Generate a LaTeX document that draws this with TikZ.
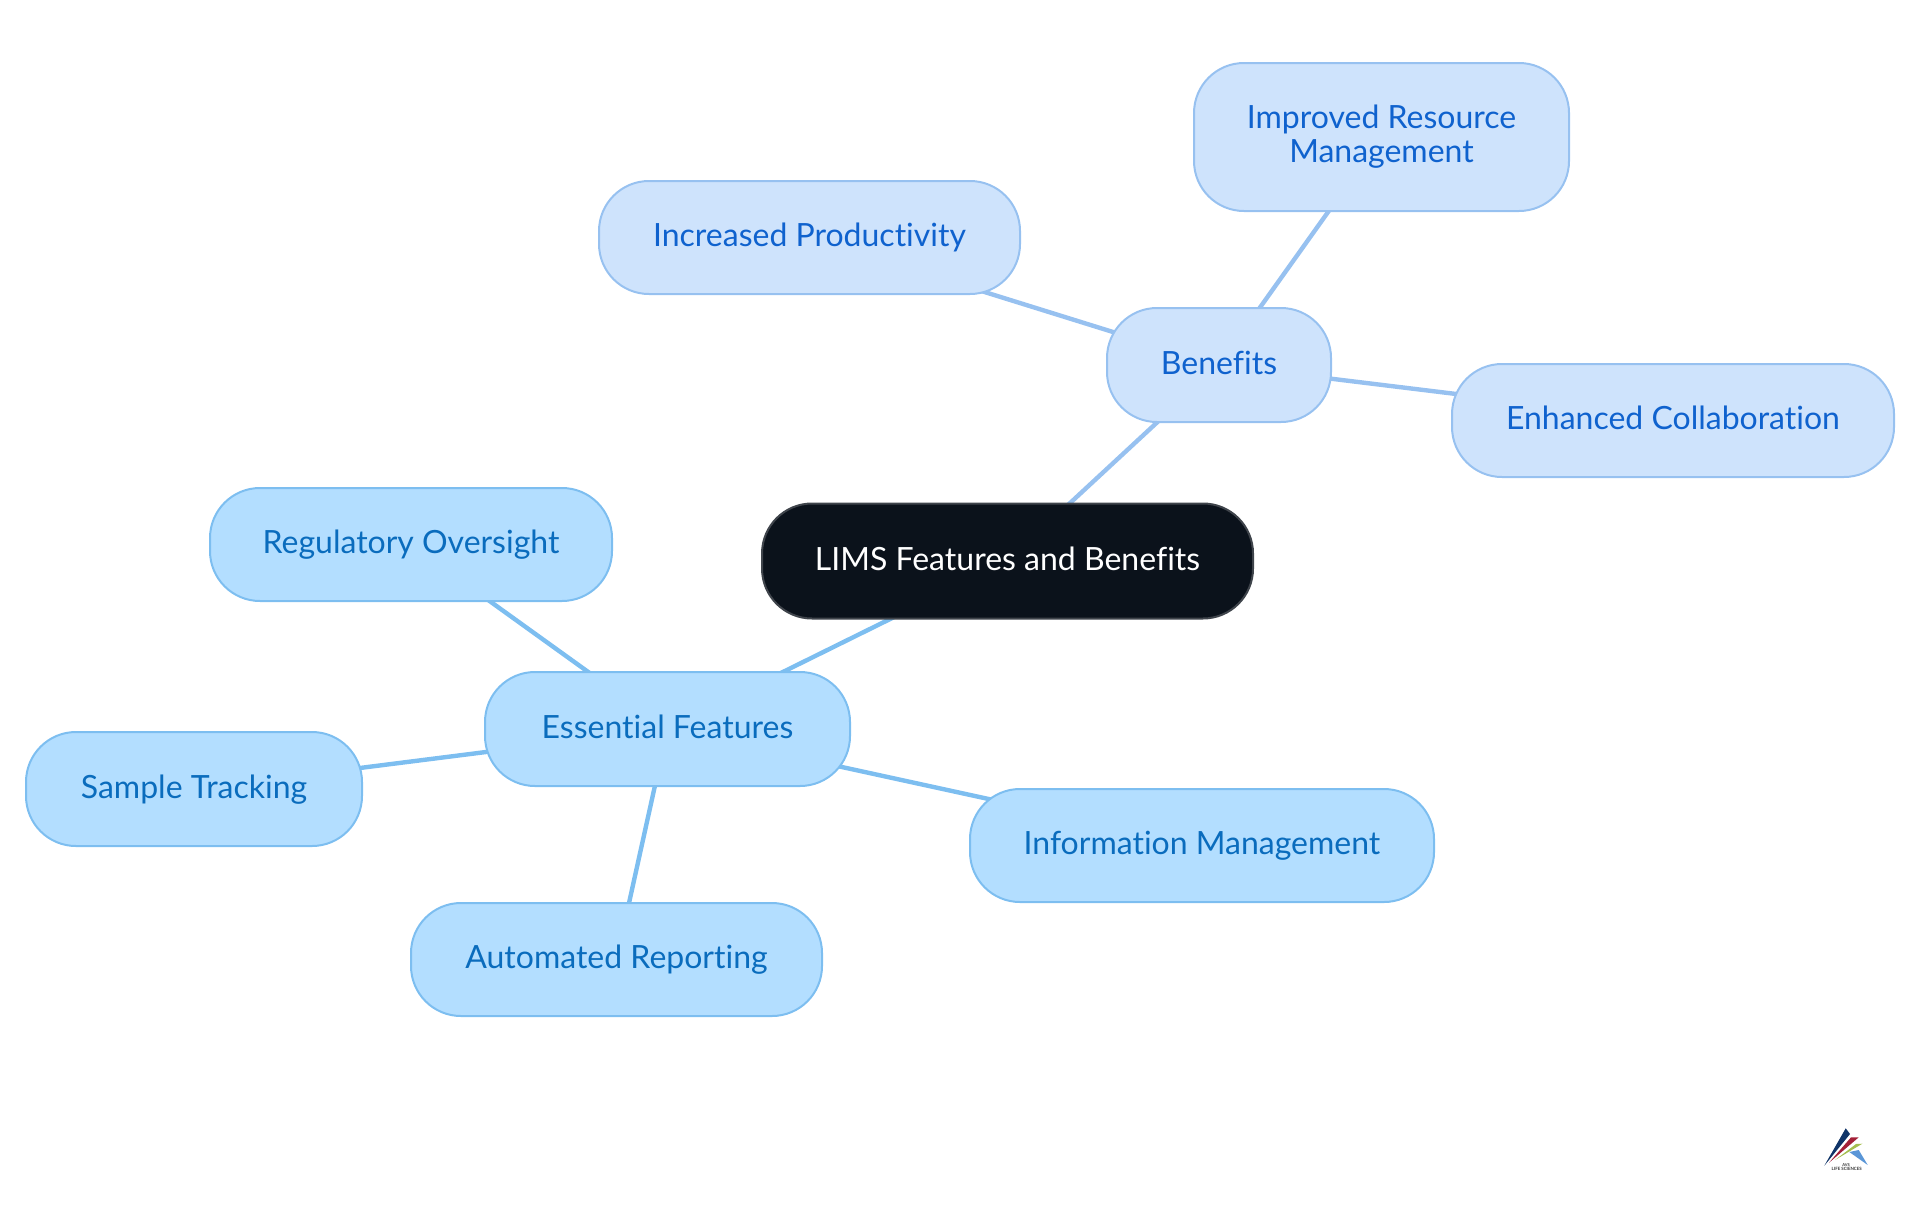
\documentclass[tikz,border=0pt]{standalone}
\usepackage{fontspec}
\setmainfont[Ligatures=CommonOff]{Lato}
\usetikzlibrary{backgrounds}
\definecolor{rootfill}{HTML}{0B121B}
\definecolor{rootline}{HTML}{3F444B}
\definecolor{featfill}{HTML}{B3DEFF}
\definecolor{featline}{HTML}{7DBEF0}
\definecolor{feattext}{HTML}{0A6CBD}
\definecolor{benfill}{HTML}{CEE3FC}
\definecolor{benline}{HTML}{97C1F0}
\definecolor{bentext}{HTML}{0F62CE}

\begin{document}
\begin{tikzpicture}[x=0.5pt,y=-0.5pt,
  pill/.style={rectangle,draw,line width=1pt,rounded corners=25pt,inner sep=0pt,align=center,
    text height=12pt,text depth=3pt,font=\fontsize{16}{17}\selectfont},
  rootbox/.style={pill,fill=rootfill,draw=rootline,text=white},
  featbox/.style={pill,fill=featfill,draw=featline,text=feattext},
  benbox/.style={pill,fill=benfill,draw=benline,text=bentext},
  featlink/.style={draw=featline,line width=2.2pt},
  benlink/.style={draw=benline,line width=2.2pt}]
\useasboundingbox (0,0) rectangle (1920,1215);

\node [rootbox,minimum width=245.5pt,minimum height=57.5pt] (z) at (1007.5,561) {LIMS Features and Benefits};

% features
\node [featbox,minimum width=182.5pt,minimum height=57pt] (f) at (667.5,729) {Essential Features};
\node [featbox,minimum width=201pt,minimum height=56.5pt] (reg) at (411,544.5) {Regulatory Oversight};
\node [featbox,minimum width=168pt,minimum height=57pt] (samp) at (194,789) {Sample Tracking};
\node [featbox,minimum width=205.5pt,minimum height=56.5pt] (auto) at (616.5,959.5) {Automated Reporting};
\node [featbox,minimum width=232pt,minimum height=56.5pt] (info) at (1202,845.5) {Information Management};

% benefits
\node [benbox,minimum width=112pt,minimum height=57pt] (b) at (1219,365) {Benefits};
\node [benbox,minimum width=210.5pt,minimum height=56.5pt] (prod) at (809.5,237.5) {Increased Productivity};
\node [benbox,text height=,text depth=,minimum width=187.5pt,minimum height=74pt] (res) at (1381.5,137) {Improved Resource\\Management};
\node [benbox,minimum width=221pt,minimum height=56.5pt] (coll) at (1673,420.5) {Enhanced Collaboration};

\begin{scope}[on background layer]
\foreach \n in {z,reg,samp,auto,info} \draw [featlink] (f.center) -- (\n.center);
\foreach \n in {prod,res,coll} \draw [benlink] (b.center) -- (\n.center);
\draw [benlink] (z.center) -- (b.center);
\end{scope}

% logo
\fill [color={rgb,255:red,16;green,52;blue,104}] (1824.3,1165.7) -- (1845.7,1128.3) -- (1850,1134) -- cycle;
\fill [color={rgb,255:red,163;green,32;blue,56}] (1829,1162.7) -- (1851,1137.3) -- (1858.7,1137.3) -- cycle;
\fill [color={rgb,255:red,165;green,190;blue,80}] (1835,1160) -- (1856,1144) -- (1862.3,1143.7) -- cycle;
\fill [color={rgb,255:red,90;green,150;blue,215}] (1849.3,1152) -- (1858.7,1150) -- (1867.7,1165) -- cycle;
\node [inner sep=0pt,text=black!80,font=\fontsize{2}{2}\selectfont\bfseries] (avs) at (1846,1165) {AVS};
\node [inner sep=0pt,text=black!80,font=\fontsize{2.2}{2}\selectfont\bfseries] (life) at (1846.7,1169) {LIFE SCIENCES};
\end{tikzpicture}
\end{document}
